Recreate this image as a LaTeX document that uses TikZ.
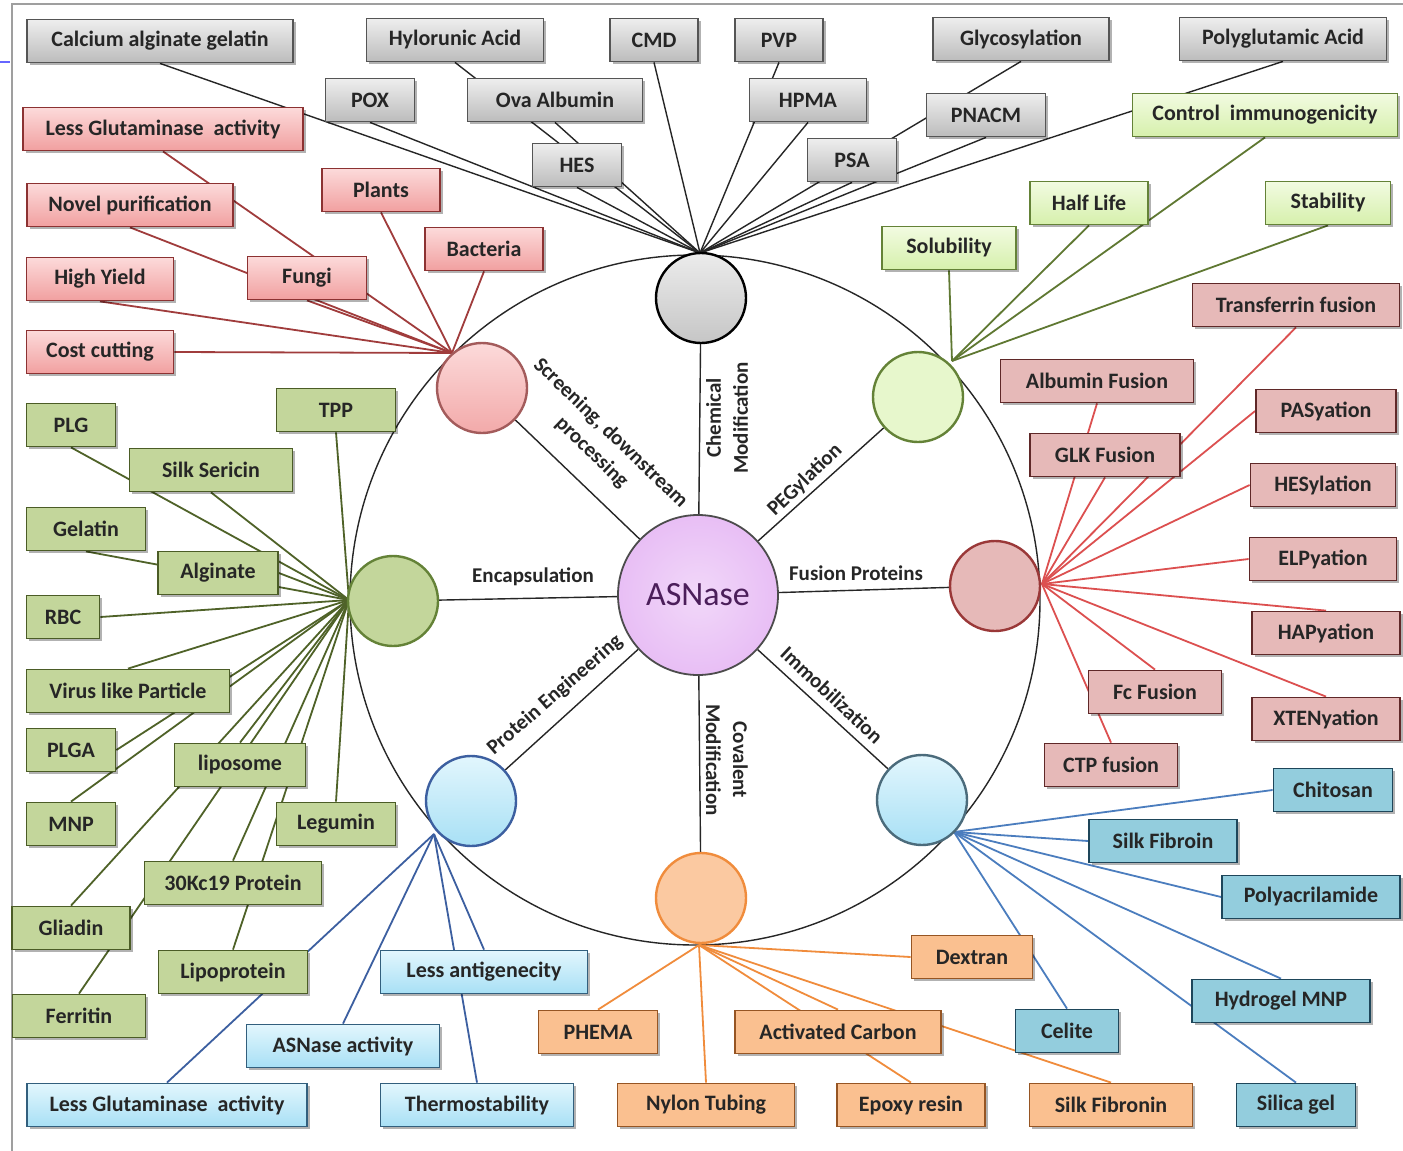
\documentclass[tikz,border=0pt]{standalone}
\usepackage{fontspec}
\setmainfont{Carlito}
\usetikzlibrary{shadows}
\pgfdeclarelayer{bg}
\pgfsetlayers{bg,main}
\definecolor{gyTop}{RGB}{238,238,238}
\definecolor{gyBot}{RGB}{188,188,188}
\definecolor{gyDraw}{RGB}{85,85,85}
\definecolor{pkTop}{RGB}{252,218,218}
\definecolor{pkBot}{RGB}{241,160,160}
\definecolor{pkDraw}{RGB}{140,50,50}
\definecolor{pkLine}{RGB}{160,60,60}
\definecolor{lgTop}{RGB}{242,251,225}
\definecolor{lgBot}{RGB}{214,240,172}
\definecolor{lgDraw}{RGB}{100,130,55}
\definecolor{lgLine}{RGB}{95,120,50}
\definecolor{grFill}{RGB}{195,214,155}
\definecolor{grDraw}{RGB}{75,92,38}
\definecolor{grLine}{RGB}{79,98,40}
\definecolor{rsFill}{RGB}{230,185,184}
\definecolor{rsDraw}{RGB}{95,40,40}
\definecolor{rsLine}{RGB}{220,80,80}
\definecolor{lbTop}{RGB}{226,246,253}
\definecolor{lbBot}{RGB}{168,224,245}
\definecolor{lbDraw}{RGB}{50,95,125}
\definecolor{lbLine}{RGB}{60,95,160}
\definecolor{blFill}{RGB}{147,205,221}
\definecolor{blDraw}{RGB}{30,70,90}
\definecolor{blLine}{RGB}{75,125,190}
\definecolor{orFill}{RGB}{250,192,144}
\definecolor{orDraw}{RGB}{150,85,35}
\definecolor{orLine}{RGB}{240,140,60}
\definecolor{asFill}{RGB}{232,190,245}
\definecolor{asText}{RGB}{75,30,90}
\newcommand\BX[6]{\node[#2, minimum width={#5*0.5pt}] (#1) at (#3,#4) {#6};}
\begin{document}
\begin{tikzpicture}[x=0.5pt,y=-0.5pt,
  box/.style={draw, rectangle, minimum height=21.5pt, inner sep=0pt,
    font=\bfseries\fontsize{11}{13}\selectfont, text=black!85, line width=0.9pt,
    drop shadow={shadow xshift=1.3pt, shadow yshift=-1.3pt, opacity=0.3, fill=black}},
  gyb/.style={box, draw=gyDraw, top color=gyTop, bottom color=gyBot},
  pkb/.style={box, draw=pkDraw, top color=pkTop, bottom color=pkBot},
  lgb/.style={box, draw=lgDraw, top color=lgTop, bottom color=lgBot},
  grb/.style={box, draw=grDraw, fill=grFill},
  rsb/.style={box, draw=rsDraw, fill=rsFill},
  lbb/.style={box, draw=lbDraw, top color=lbTop, bottom color=lbBot},
  blb/.style={box, draw=blDraw, fill=blFill},
  orb/.style={box, draw=orDraw, fill=orFill},
  sat/.style={circle, minimum size=45pt, inner sep=0pt, line width=1.2pt},
  lab/.style={font=\bfseries\fontsize{10.5}{13.5}\selectfont, text=black!85, align=center, inner sep=1pt},
  spoke/.style={draw=black!85, line width=0.7pt},
  fan/.style={line width=0.9pt}
]
\useasboundingbox (0,0) rectangle (1403,1151);
% ---- satellites and centre
\node[circle, minimum size=80pt, inner sep=0pt, draw=black!70, line width=0.9pt,
  inner color=asFill!60, outer color=asFill, font=\fontsize{17}{20}\selectfont, text=asText] (asn) at (698,595) {ASNase};
\node[sat, draw=black, top color=gray!15, bottom color=gray!45] (cg) at (701,298) {};
\node[sat, draw=pkDraw!80, top color=pkTop, bottom color=pkBot!90] (cp) at (482,388) {};
\node[sat, draw=lgDraw, fill=lgTop!60!lgBot] (cl) at (918,397) {};
\node[sat, draw=lgDraw, fill=grFill] (ce) at (393,601) {};
\node[sat, draw=rsLine!70!black, fill=rsFill] (cf) at (995,586) {};
\node[sat, draw=lbLine, top color=lbTop, bottom color=lbBot] (cpe) at (471,801) {};
\node[sat, draw=blDraw!80, top color=lbTop, bottom color=lbBot] (cim) at (922,800) {};
\node[sat, draw=orLine, fill=orFill!85] (co) at (701,898) {};
% hubs
\coordinate (hg) at (700,253);
\coordinate (hp) at (452,353);
\coordinate (hl) at (952,361);
\coordinate (he) at (349,600);
\coordinate (hf) at (1042,584);
\coordinate (hpe) at (434,834);
\coordinate (him) at (954,832);
\coordinate (ho) at (699,945);
% ---- chemical modification (gray)
\BX{cag}{gyb}{160}{41}{266}{Calcium alginate gelatin}
\BX{hyl}{gyb}{455}{40}{177}{Hylorunic Acid}
\BX{cmd}{gyb}{654}{40}{88}{CMD}
\BX{pvp}{gyb}{779}{40}{88}{PVP}
\BX{gly}{gyb}{1021}{39}{176}{Glycosylation}
\BX{pga}{gyb}{1283}{39}{207}{Polyglutamic Acid}
\BX{pox}{gyb}{370}{100}{89}{POX}
\BX{ova}{gyb}{555}{100}{175}{Ova Albumin}
\BX{hpma}{gyb}{808}{100}{117}{HPMA}
\BX{pnacm}{gyb}{986}{115}{119}{PNACM}
\BX{hes}{gyb}{577}{165}{89}{HES}
\BX{psa}{gyb}{852}{160}{89}{PSA}
% ---- screening (pink)
\BX{lga}{pkb}{163}{129}{280}{Less Glutaminase~ activity}
\BX{npu}{pkb}{130}{205}{206}{Novel purification}
\BX{pla}{pkb}{381}{190}{118}{Plants}
\BX{bac}{pkb}{484}{249}{118}{Bacteria}
\BX{fun}{pkb}{307}{278}{119}{Fungi}
\BX{hy}{pkb}{100}{279}{147}{High Yield}
\BX{cc}{pkb}{100}{352}{147}{Cost cutting}
% ---- PEGylation (light green)
\BX{ci}{lgb}{1265}{115}{265}{Control~ immunogenicity}
\BX{half}{lgb}{1089}{203}{118}{Half Life}
\BX{stab}{lgb}{1328}{203}{125}{Stability}
\BX{sol}{lgb}{949}{248}{134}{Solubility}
% ---- encapsulation (green)
\BX{plg}{grb}{71}{425}{89}{PLG}
\BX{tpp}{grb}{336}{410}{119}{TPP}
\BX{ss}{grb}{211}{470}{163}{Silk Sericin}
\BX{gel}{grb}{86}{529}{119}{Gelatin}
\BX{alg}{grb}{218}{573}{120}{Alginate}
\BX{rbc}{grb}{63}{617}{73}{RBC}
\BX{vlp}{grb}{128}{691}{203}{Virus like Particle}
\BX{plga}{grb}{71}{750}{89}{PLGA}
\BX{lip}{grb}{240}{765}{131}{liposome}
\BX{mnp}{grb}{71}{824}{89}{MNP}
\BX{leg}{grb}{336}{824}{119}{Legumin}
\BX{kc}{grb}{233}{883}{177}{30Kc19 Protein}
\BX{gli}{grb}{71}{928}{118}{Gliadin}
\BX{lpp}{grb}{233}{972}{149}{Lipoprotein}
\BX{fer}{grb}{79}{1016}{133}{Ferritin}
% ---- fusion proteins (rose)
\BX{tf}{rsb}{1296}{305}{207}{Transferrin fusion}
\BX{af}{rsb}{1097}{381}{193}{Albumin Fusion}
\BX{pas}{rsb}{1326}{411}{140}{PASyation}
\BX{glk}{rsb}{1105}{455}{150}{GLK Fusion}
\BX{hesy}{rsb}{1323}{485}{145}{HESylation}
\BX{elp}{rsb}{1323}{559}{147}{ELPyation}
\BX{hap}{rsb}{1326}{633}{148}{HAPyation}
\BX{fc}{rsb}{1155}{692}{133}{Fc Fusion}
\BX{xten}{rsb}{1326}{719}{148}{XTENyation}
\BX{ctp}{rsb}{1111}{765}{133}{CTP fusion}
% ---- protein engineering (light blue)
\BX{la}{lbb}{484}{972}{207}{Less antigenecity}
\BX{aa}{lbb}{343}{1046}{193}{ASNase activity}
\BX{lgt}{lbb}{167}{1105}{280}{Less Glutaminase~ activity}
\BX{th}{lbb}{477}{1105}{193}{Thermostability}
% ---- immobilization (blue)
\BX{chi}{blb}{1333}{790}{119}{Chitosan}
\BX{sf}{blb}{1163}{841}{148}{Silk Fibroin}
\BX{pam}{blb}{1311}{897}{178}{Polyacrilamide}
\BX{cel}{blb}{1067}{1031}{103}{Celite}
\BX{hmnp}{blb}{1281}{1001}{178}{Hydrogel MNP}
\BX{sil}{blb}{1296}{1105}{119}{Silica gel}
% ---- covalent modification (orange)
\BX{dex}{orb}{972}{957}{121}{Dextran}
\BX{phe}{orb}{598}{1032}{119}{PHEMA}
\BX{ac}{orb}{838}{1032}{206}{Activated Carbon}
\BX{nyl}{orb}{706}{1105}{177}{Nylon Tubing}
\BX{epo}{orb}{911}{1105}{148}{Epoxy resin}
\BX{sfn}{orb}{1111}{1105}{163}{Silk Fibronin}
% ---- spoke labels
\node[lab, rotate=90] at (727,418) {Chemical\\Modification};
\node[lab, rotate=-44] at (601,443) {Screening, downstream\\processing};
\node[lab, rotate=44] at (805,480) {PEGylation};
\node[lab] at (533,577) {Encapsulation};
\node[lab] at (856,573) {Fusion Proteins};
\node[lab, rotate=41] at (555,695) {Protein Engineering};
\node[lab, rotate=-43] at (832,695) {Immobilization};
\node[lab, rotate=-90] at (727,760) {Covalent\\Modification};
% ---- background: frame, ring, spokes, fans
\begin{pgfonlayer}{bg}
\fill[white] (0,0) rectangle (1403,1151);
\draw[gray!75, line width=1.2pt] (12,1151) -- (12,4) -- (1403,4);
\draw[blue!60, line width=0.8pt] (0,62) -- (10,62);
\draw[black!85, line width=0.7pt] (695,600) circle[radius=172.5pt];
\foreach \s in {cg,cp,cl,ce,cf,cpe,cim,co} \draw[spoke] (asn) -- (\s);
\foreach \n in {cag,hyl,cmd,pvp,gly,pga,pox,ova,hpma,pnacm,hes,psa}
  \draw[fan, draw=black!85, line width=0.7pt] (\n.south) -- (hg);
\foreach \n in {lga,npu,pla,bac,fun,hy} \draw[fan, draw=pkLine] (\n.south) -- (hp);
\draw[fan, draw=pkLine] (cc.east) -- (hp);
\foreach \n in {ci,half,stab,sol} \draw[fan, draw=lgLine] (\n.south) -- (hl);
\foreach \n in {plg,tpp,ss,gel} \draw[fan, draw=grLine] (\n.south) -- (he);
\foreach \n in {alg,rbc,plga} \draw[fan, draw=grLine] (\n.east) -- (he);
\foreach \n in {vlp,lip,mnp,leg,kc,gli,lpp,fer} \draw[fan, draw=grLine] (\n.north) -- (he);
\foreach \n in {tf,af,glk} \draw[fan, draw=rsLine] (\n.south) -- (hf);
\foreach \n in {pas,hesy,elp} \draw[fan, draw=rsLine] (\n.west) -- (hf);
\foreach \n in {hap,fc,xten,ctp} \draw[fan, draw=rsLine] (\n.north) -- (hf);
\foreach \n in {la,aa,lgt,th} \draw[fan, draw=lbLine] (\n.north) -- (hpe);
\foreach \n in {chi,sf,pam} \draw[fan, draw=blLine] (\n.west) -- (him);
\foreach \n in {cel,hmnp,sil} \draw[fan, draw=blLine] (\n.north) -- (him);
\draw[fan, draw=orLine] (dex.west) -- (ho);
\foreach \n in {phe,ac,nyl,epo,sfn} \draw[fan, draw=orLine] (\n.north) -- (ho);
\end{pgfonlayer}
\end{tikzpicture}
\end{document}
